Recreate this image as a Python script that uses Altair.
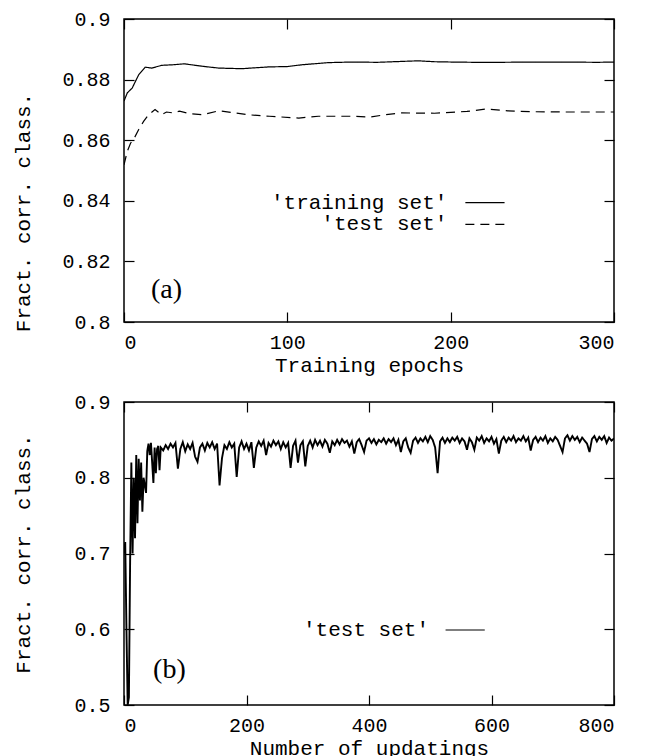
import altair as alt
import pandas as pd

MONO = "Liberation Mono"
SERIF = "Liberation Serif"

# ---------------- panel (a) ----------------
a_train_epoch = [0, 2, 5, 9, 13, 17, 23, 30, 37, 48, 58, 72, 89, 100, 109, 125,
                 140, 155, 170, 180, 190, 200, 215, 230, 250, 270, 290, 300]
a_train_frac = [0.8729, 0.8756, 0.8772, 0.8816, 0.8841, 0.8838, 0.8847, 0.8849,
                0.8852, 0.8844, 0.8838, 0.8836, 0.8842, 0.8843, 0.8849, 0.8856,
                0.8858, 0.8857, 0.8860, 0.8862, 0.8859, 0.8858, 0.8857, 0.8857,
                0.8858, 0.8858, 0.8857, 0.8858]
a_test_epoch = [0, 2, 4, 6, 9, 12, 15, 19, 23, 26, 30, 34, 40, 48, 58, 68, 76, 89,
                107, 119, 140, 150, 160, 170, 190, 200, 210, 222, 235, 250, 270, 300]
a_test_frac = [0.8519, 0.8563, 0.8590, 0.8604, 0.8635, 0.8662, 0.8684, 0.8701,
               0.8684, 0.8693, 0.8690, 0.8696, 0.8688, 0.8684, 0.8697, 0.8690,
               0.8684, 0.8679, 0.8673, 0.8679, 0.8679, 0.8676, 0.8684, 0.8690,
               0.8689, 0.8692, 0.8695, 0.8703, 0.8697, 0.8694, 0.8693, 0.8693]
a_xticks = [0, 100, 200, 300]
a_yticks = [0.8, 0.82, 0.84, 0.86, 0.88, 0.9]
a_legend_labels = ["'training set'", "'test set'"]
a_legend_frac = [0.8394, 0.8322]
a_legend_text_x = 198
a_legend_line_x = [209, 233]

# ---------------- panel (b) ----------------
b_early_upd = list(range(0, 61, 2))
b_early_frac = [0.700, 0.715, 0.600, 0.500, 0.510, 0.690, 0.820, 0.700, 0.800, 0.720,
                0.830, 0.740, 0.825, 0.770, 0.820, 0.755, 0.800, 0.790, 0.780, 0.835,
                0.845, 0.830, 0.846, 0.820, 0.793, 0.840, 0.806, 0.838, 0.842, 0.810,
                0.840]
b_late_upd = list(range(64, 801, 4))
b_late_frac = [
    0.836, 0.843, 0.838, 0.845, 0.840, 0.846, 0.812, 0.838, 0.847, 0.835,
    0.844, 0.838, 0.846, 0.828, 0.821, 0.840, 0.845, 0.836, 0.846, 0.840,
    0.847, 0.838, 0.845, 0.790, 0.826, 0.843, 0.838, 0.847, 0.840, 0.845,
    0.801, 0.840, 0.848, 0.838, 0.845, 0.836, 0.847, 0.813, 0.840, 0.848,
    0.842, 0.849, 0.830, 0.846, 0.841, 0.849, 0.843, 0.848, 0.838, 0.847,
    0.840, 0.846, 0.813, 0.842, 0.849, 0.820, 0.843, 0.848, 0.815, 0.842,
    0.849, 0.840, 0.850, 0.843, 0.849, 0.841, 0.850, 0.845, 0.833, 0.848,
    0.843, 0.850, 0.844, 0.851, 0.846, 0.849, 0.841, 0.848, 0.832, 0.847,
    0.851, 0.843, 0.834, 0.849, 0.852, 0.846, 0.851, 0.844, 0.850, 0.847,
    0.852, 0.845, 0.851, 0.847, 0.852, 0.843, 0.850, 0.834, 0.848, 0.852,
    0.840, 0.833, 0.849, 0.853, 0.846, 0.852, 0.848, 0.854, 0.847, 0.855,
    0.850, 0.840, 0.806, 0.848, 0.853, 0.846, 0.852, 0.847, 0.853, 0.849,
    0.854, 0.846, 0.852, 0.848, 0.837, 0.852, 0.847, 0.837, 0.853, 0.849,
    0.855, 0.846, 0.852, 0.848, 0.854, 0.845, 0.851, 0.832, 0.849, 0.854,
    0.847, 0.853, 0.849, 0.855, 0.847, 0.852, 0.849, 0.855, 0.848, 0.853,
    0.836, 0.850, 0.854, 0.847, 0.853, 0.849, 0.855, 0.846, 0.852, 0.848,
    0.854, 0.850, 0.842, 0.834, 0.852, 0.856, 0.849, 0.855, 0.850, 0.854,
    0.847, 0.853, 0.849, 0.845, 0.834, 0.851, 0.855, 0.848, 0.854, 0.850,
    0.855, 0.846, 0.853, 0.849, 0.852,
]
b_xticks = [0, 200, 400, 600, 800]
b_yticks = [0.5, 0.6, 0.7, 0.8, 0.9]
b_legend_labels = ["'test set'"]
b_legend_frac = [0.5990]
b_legend_text_x = 498
b_legend_line_x = [525, 589]

assert len(b_early_upd) == len(b_early_frac)
assert len(b_late_upd) == len(b_late_frac)

W, H = 490, 303


def main_axis(orient, values, title, fmt, **kw):
    return alt.Axis(orient=orient, values=values, title=title, format=fmt,
                    domain=False, grid=False, ticks=True, tickSize=10, offset=-10,
                    tickColor="black", tickWidth=1.2,
                    labelFont=MONO, labelFontSize=20, labelColor="black",
                    titleFont=MONO, titleFontSize=21, titleFontWeight="normal",
                    titleColor="black", **kw)


def mirror_axis(orient, values):
    return alt.Axis(orient=orient, values=values, title=None, labels=False,
                    domain=False, grid=False, ticks=True, tickSize=10, offset=-10,
                    tickColor="black", tickWidth=1.2)


def panel(series, xdom, ydom, xticks, yticks, xtitle, ytitle_y,
          leg_labels, leg_frac, leg_text_x, leg_line_x, leg_dash,
          tag, tag_x, tag_y, stroke_w):
    xs = alt.Scale(domain=xdom, nice=False, zero=False)
    ys = alt.Scale(domain=ydom, nice=False, zero=False)
    layers = []
    for i, (xv, yv, dash) in enumerate(series):
        df = pd.DataFrame({"x": xv, "y": yv})
        if i == 0:
            xa = main_axis("bottom", xticks, xtitle, "d", labelPadding=10, titlePadding=2)
            ya_kw = dict(labelPadding=14, titleX=-110.5, titleBaseline="middle",
                         titleAlign="center")
            if ytitle_y is not None:
                ya_kw["titleY"] = ytitle_y
            ya = main_axis("left", yticks, "Fract. corr. class.", ".2~f", **ya_kw)
        else:
            xa = None
            ya = None
        mk = alt.Chart(df).mark_line(color="black", strokeWidth=stroke_w,
                                     strokeDash=dash, clip=True)
        layers.append(mk.encode(x=alt.X("x:Q", scale=xs, axis=xa),
                                y=alt.Y("y:Q", scale=ys, axis=ya)))
    # mirrored tick axes (top / right)
    mdf = pd.DataFrame({"x": [xdom[0]], "y": [ydom[0]]})
    layers.append(alt.Chart(mdf).mark_point(opacity=0).encode(
        x=alt.X("x:Q", scale=xs, axis=mirror_axis("top", xticks)),
        y=alt.Y("y:Q", scale=ys, axis=mirror_axis("right", yticks))))
    # legend texts + line samples
    ldf = pd.DataFrame({"label": leg_labels, "y": leg_frac,
                        "tx": [leg_text_x] * len(leg_labels),
                        "x1": [leg_line_x[0]] * len(leg_labels),
                        "x2": [leg_line_x[1]] * len(leg_labels)})
    layers.append(alt.Chart(ldf).mark_text(font=MONO, fontSize=21, align="right",
                                           baseline="middle", color="black").encode(
        x=alt.X("tx:Q", scale=xs, axis=None), y=alt.Y("y:Q", scale=ys, axis=None),
        text="label:N"))
    for j in range(len(leg_labels)):
        sdf = ldf.iloc[[j]]
        layers.append(alt.Chart(sdf).mark_rule(color="black", strokeWidth=1.2,
                                               strokeDash=leg_dash[j]).encode(
            x=alt.X("x1:Q", scale=xs, axis=None), x2="x2:Q",
            y=alt.Y("y:Q", scale=ys, axis=None)))
    tdf = pd.DataFrame({"t": [tag], "x": [tag_x], "y": [tag_y]})
    layers.append(alt.Chart(tdf).mark_text(font=SERIF, fontSize=28, align="left",
                                           baseline="middle", color="black").encode(
        x=alt.X("x:Q", scale=xs, axis=None), y=alt.Y("y:Q", scale=ys, axis=None),
        text="t:N"))
    return alt.layer(*layers).resolve_axis(x="independent", y="independent").properties(
        width=W, height=H)


top = panel([(a_train_epoch, a_train_frac, [1, 0]), (a_test_epoch, a_test_frac, [9, 6])],
            [0, 300], [0.8, 0.9], a_xticks, a_yticks, "Training epochs", 193,
            a_legend_labels, a_legend_frac, a_legend_text_x, a_legend_line_x,
            [[1, 0], [9, 6]], "(a)", 16.5, 0.8106, 1.2)

bottom = panel([(b_early_upd + b_late_upd, b_early_frac + b_late_frac, [1, 0])],
               [0, 800], [0.5, 0.9], b_xticks, b_yticks, "Number of updatings", None,
               b_legend_labels, b_legend_frac, b_legend_text_x, b_legend_line_x,
               [[1, 0]], "(b)", 47.5, 0.546, 1.9)

chart = alt.vconcat(top, bottom, spacing=15).properties(
    padding={"left": 3, "top": 0, "right": 0, "bottom": 0}).configure_view(
    stroke="black", strokeWidth=1.5)

chart.save("out.html", embed_options={"renderer": "svg", "actions": False})
